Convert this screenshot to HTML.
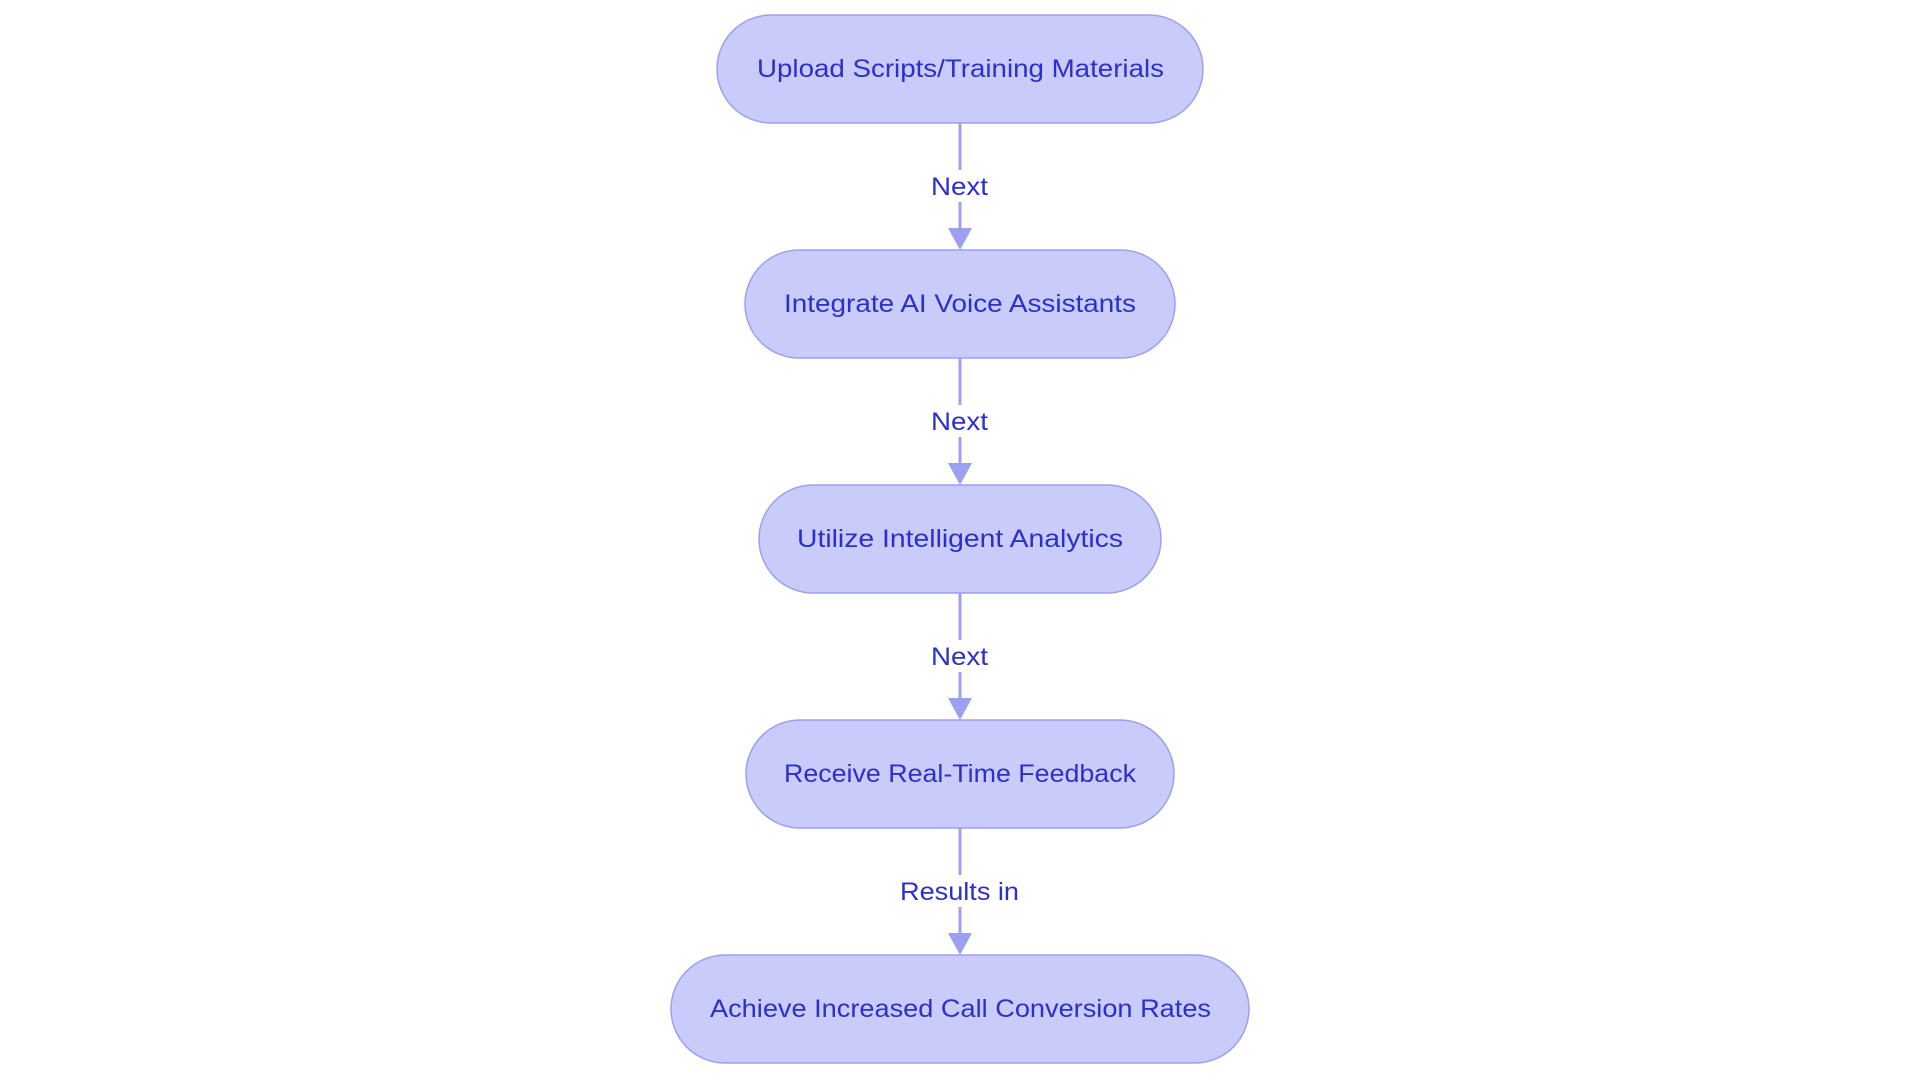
<!DOCTYPE html>
<html><head><meta charset="utf-8"><style>
html,body{margin:0;padding:0;background:#fff;}
svg{display:block;}
text{font-family:"Liberation Sans",sans-serif;fill:#2b2fcb;font-size:25px;}
</style></head><body>
<svg width="1920" height="1083" viewBox="0 0 1920 1083" xmlns="http://www.w3.org/2000/svg">
<g stroke="#9ca0f0" stroke-width="3" fill="none">
<line x1="960" y1="123" x2="960" y2="230"/>
<line x1="960" y1="358" x2="960" y2="465"/>
<line x1="960" y1="593" x2="960" y2="700"/>
<line x1="960" y1="828" x2="960" y2="935"/>
</g>
<g fill="#9ca0f0">
<polygon points="948,228 972,228 960,250"/>
<polygon points="948,463 972,463 960,485"/>
<polygon points="948,698 972,698 960,720"/>
<polygon points="948,933 972,933 960,955"/>
</g>
<g fill="#fff">
<rect x="928" y="170" width="64" height="32"/>
<rect x="928" y="405" width="64" height="32"/>
<rect x="928" y="640" width="64" height="32"/>
<rect x="897" y="875" width="126" height="32"/>
</g>
<g fill="#c9cbfb" stroke="#9ca0f0" stroke-width="1.5">
<rect x="717" y="15" width="486" height="108" rx="54"/>
<rect x="745" y="250" width="430" height="108" rx="54"/>
<rect x="759" y="485" width="402" height="108" rx="54"/>
<rect x="746" y="720" width="428" height="108" rx="54"/>
<rect x="671" y="955" width="578" height="108" rx="54"/>
</g>
<text x="757" y="77" textLength="407" lengthAdjust="spacingAndGlyphs">Upload Scripts/Training Materials</text>
<text x="784" y="312" textLength="352" lengthAdjust="spacingAndGlyphs">Integrate AI Voice Assistants</text>
<text x="797" y="547" textLength="326" lengthAdjust="spacingAndGlyphs">Utilize Intelligent Analytics</text>
<text x="784" y="782" textLength="352" lengthAdjust="spacingAndGlyphs">Receive Real-Time Feedback</text>
<text x="710" y="1017" textLength="501" lengthAdjust="spacingAndGlyphs">Achieve Increased Call Conversion Rates</text>
<text x="931" y="195" textLength="57" lengthAdjust="spacingAndGlyphs">Next</text>
<text x="931" y="430" textLength="57" lengthAdjust="spacingAndGlyphs">Next</text>
<text x="931" y="665" textLength="57" lengthAdjust="spacingAndGlyphs">Next</text>
<text x="900" y="900" textLength="119" lengthAdjust="spacingAndGlyphs">Results in</text>
</svg>
</body></html>
